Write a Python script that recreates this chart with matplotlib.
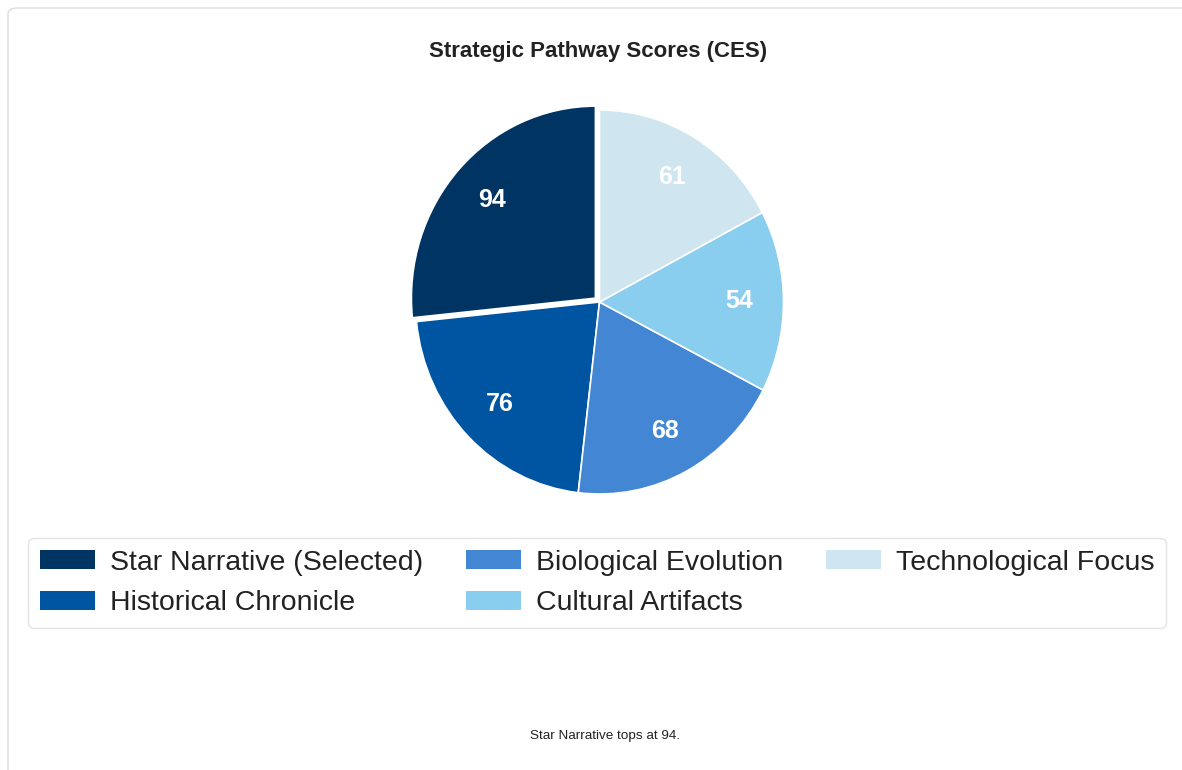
import matplotlib
matplotlib.use('Agg')
import matplotlib.pyplot as plt
from matplotlib.patches import FancyBboxPatch

plt.rcParams['font.family'] = ['Liberation Sans', 'DejaVu Sans']

# data
labels = ['Star Narrative (Selected)', 'Historical Chronicle', 'Biological Evolution',
          'Cultural Artifacts', 'Technological Focus']
scores = [94, 76, 68, 54, 61]
colors = ['#003463', '#0055a3', '#4386d4', '#89cdef', '#cfe5f0']
explode = [0.03, 0, 0, 0, 0]

W, H = 1182, 770
fig = plt.figure(figsize=(W / 100, H / 100), dpi=100)

# card frame
card = FancyBboxPatch((8 / W, -0.05), 1.1, 1.05 - 8 / H,
                      boxstyle='round,pad=0,rounding_size=0.008',
                      transform=fig.transFigure, facecolor='white',
                      edgecolor='#dddddd', lw=1.0, zorder=-5)
fig.patches.append(card)

# pie is slightly squashed horizontally in the reference
cx, cy, rx, ry = 599.5, 302, 184, 192
ax = fig.add_axes([(cx - rx) / W, (H - cy - ry) / H, 2 * rx / W, 2 * ry / H], zorder=2)
wedges, texts = ax.pie(scores, colors=colors, explode=explode, startangle=90,
                       labels=[str(s) for s in scores], labeldistance=0.76,
                       wedgeprops=dict(edgecolor='white', linewidth=1.2))
for t in texts:
    t.set_color('white')
    t.set_fontsize(18)
    t.set_fontweight('bold')
    t.set_ha('center')
    t.set_va('center')
ax.set_xlim(-1, 1)
ax.set_ylim(-1, 1)
ax.set_aspect('auto')
ax.axis('off')
for w in wedges:
    w.set_clip_on(False)

fig.text(598 / W, 1 - 52 / H, 'Strategic Pathway Scores (CES)', ha='center', va='center',
         fontsize=16, fontweight='bold', color='#222222')

leg = fig.legend(wedges, labels, loc='center', bbox_to_anchor=(597 / W, 1 - 583 / H),
                 ncol=3, fontsize=20.5, frameon=True, fancybox=True,
                 handlelength=1.93, handleheight=0.63, handletextpad=0.53,
                 columnspacing=1.5, labelspacing=0.52, borderpad=0.4)
leg.get_frame().set_edgecolor('#dddddd')
leg.get_frame().set_linewidth(1.0)
for t in leg.get_texts():
    t.set_color('#222222')
for h in leg.legend_handles:
    h.set_edgecolor('none')

fig.text(605 / W, 1 - 736 / H, 'Star Narrative tops at 94.', ha='center', va='center',
         fontsize=9.7, color='#222222')

fig.savefig('out.png', dpi=100)
